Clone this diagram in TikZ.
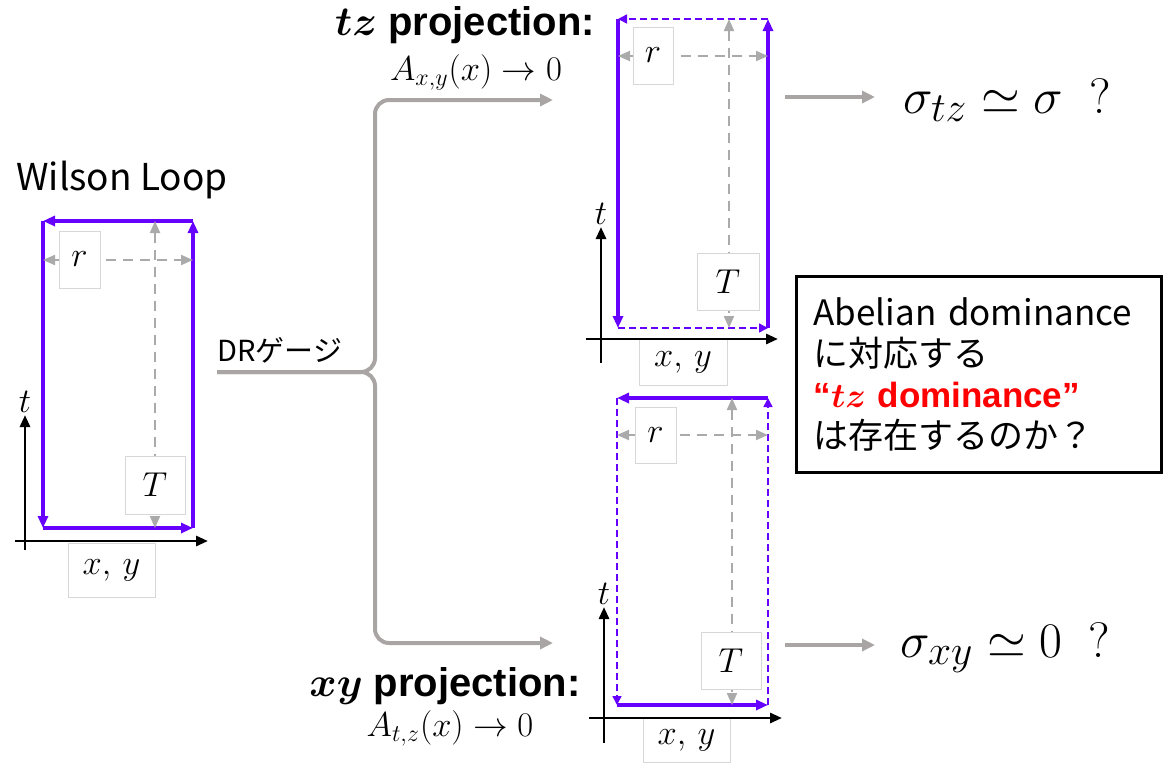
\documentclass[tikz,border=0pt]{standalone}
\usepackage{amsmath,bm}
\usepackage{fontspec}
\setmainfont{Noto Sans CJK JP}
\newfontfamily\heavyfont{Liberation Sans}
\usepackage{tikz}
\usetikzlibrary{arrows.meta,calc}
\definecolor{loopc}{RGB}{102,0,255}
\definecolor{measc}{RGB}{170,170,170}
\definecolor{flowc}{RGB}{170,165,165}
\definecolor{boxc}{RGB}{215,215,215}
\tikzset{
  edge/.style={line width=2pt, color=loopc, -{Triangle[length=6pt,width=5pt]}},
  proj/.style={line width=0.75pt, color=loopc, dash pattern=on 3.5pt off 2pt, -{Triangle[length=4.5pt,width=4.5pt]}},
  meas/.style={line width=1pt, color=measc, dash pattern=on 5pt off 3.5pt, {Triangle[length=6pt,width=5pt]}-{Triangle[length=6pt,width=5pt]}},
  axis/.style={line width=1.4pt, -{Triangle[length=6pt,width=5pt]}},
  flow/.style={line width=2pt, color=flowc, -{Triangle[length=6.5pt,width=6pt]}},
  lbl/.style={draw=boxc, fill=white, line width=0.4pt, inner sep=0pt, font=\fontsize{18}{18}\selectfont},
  res/.style={anchor=west, inner sep=0pt, font=\fontsize{28}{28}\selectfont}
}

\begin{document}
\begin{tikzpicture}[x=0.5pt,y=-0.5pt]
\useasboundingbox (0,0) rectangle (1164,762);

% Wilson loop
\node[font=\fontsize{18.5}{18.5}\selectfont] (wtitle) at (122,180) {Wilson Loop};
\coordinate (wbl) at (43,528);  \coordinate (wbr) at (193,528);
\coordinate (wtr) at (193,221); \coordinate (wtl) at (43,221);
\draw[edge] (wbl) -- (wbr);
\draw[edge] (wbr) -- (wtr);
\draw[edge] (wtr) -- (wtl);
\draw[edge] (wtl) -- (wbl);
\coordinate (wr1) at (43,260);  \coordinate (wr2) at (193,260);
\coordinate (wT1) at (155,221); \coordinate (wT2) at (155,528);
\draw[meas] (wr1) -- (wr2);
\draw[meas] (wT1) -- (wT2);
\node[lbl, minimum width=20.5pt, minimum height=28.5pt] (wr) at (79.5,259.5) {$r$};
\node[lbl, minimum width=30pt, minimum height=29pt] (wT) at (155,485) {$T$};
\coordinate (wt0) at (25,550); \coordinate (wt1) at (25,415);
\coordinate (wx0) at (15,541); \coordinate (wx1) at (208,541);
\node[lbl, minimum width=43.5pt, minimum height=27pt] (wxy) at (111.5,570) {$x,\, y$};
\draw[axis] (wt0) -- (wt1) node[above, inner sep=0.5pt, font=\fontsize{18}{18}\selectfont] (wt) {$t$};
\draw[axis] (wx0) -- (wx1);

% DR gauge and fork
\coordinate (dr) at (217,372);
\coordinate (fork) at (375,372);
\coordinate (tzin) at (553,100);
\coordinate (xyin) at (553,643);
\node[anchor=west, inner sep=0pt, font=\fontsize{14.5}{14.5}\selectfont] (drlbl) at (217,350) {DRゲージ};
\draw[flow, rounded corners=7pt] (dr) -- (fork) |- (tzin);
\draw[flow, rounded corners=7pt] (dr) -- (fork) |- (xyin);
\node[font=\heavyfont\bfseries\fontsize{20}{20}\selectfont] (tzhead) at (465,25) {$\bm{tz}$ projection:};
\node[font=\fontsize{17.5}{17.5}\selectfont] (tzcond) at (476,72) {$A_{x,y}(x)\rightarrow 0$};
\node[font=\heavyfont\bfseries\fontsize{20}{20}\selectfont] (xyhead) at (445,686) {$\bm{xy}$ projection:};
\node[font=\fontsize{17.5}{17.5}\selectfont] (xycond) at (450,728) {$A_{t,z}(x)\rightarrow 0$};

% tz projection loop
\coordinate (tbl) at (618,328); \coordinate (tbr) at (768,328);
\coordinate (ttr) at (768,19);  \coordinate (ttl) at (618,19);
\draw[proj] (tbl) -- (tbr);
\draw[edge] (tbr) -- (ttr);
\draw[proj] (ttr) -- (ttl);
\draw[edge] (ttl) -- (tbl);
\coordinate (tr1) at (618,56);  \coordinate (tr2) at (768,56);
\coordinate (tT1) at (729,19);  \coordinate (tT2) at (729,328);
\draw[meas] (tr1) -- (tr2);
\draw[meas] (tT1) -- (tT2);
\node[lbl, minimum width=20pt, minimum height=28.5pt] (tr) at (653,55.5) {$r$};
\node[lbl, minimum width=31pt, minimum height=28.5pt] (tT) at (728,281.5) {$T$};
\coordinate (tt0) at (601,363); \coordinate (tt1) at (601,227);
\coordinate (tx0) at (586,339); \coordinate (tx1) at (778,339);
\node[lbl, minimum width=44pt, minimum height=23pt] (txy) at (683,362) {$x,\, y$};
\draw[axis] (tt0) -- (tt1) node[above, inner sep=0.5pt, font=\fontsize{18}{18}\selectfont] (tt) {$t$};
\draw[axis] (tx0) -- (tx1);

% xy projection loop
\coordinate (bbl) at (617,705); \coordinate (bbr) at (768,705);
\coordinate (btr) at (768,398); \coordinate (btl) at (617,398);
\draw[edge] (bbl) -- (bbr);
\draw[proj] (bbr) -- (btr);
\draw[edge] (btr) -- (btl);
\draw[proj] (btl) -- (bbl);
\coordinate (br1) at (617,435); \coordinate (br2) at (768,435);
\coordinate (bT1) at (732,398); \coordinate (bT2) at (732,705);
\draw[meas] (br1) -- (br2);
\draw[meas] (bT1) -- (bT2);
\node[lbl, minimum width=20.5pt, minimum height=28pt] (br) at (655.5,435) {$r$};
\node[lbl, minimum width=30pt, minimum height=28.5pt] (bT) at (731,660.5) {$T$};
\coordinate (bt0) at (604,743); \coordinate (bt1) at (604,607);
\coordinate (bx0) at (589,718); \coordinate (bx1) at (782,718);
\node[lbl, minimum width=43.5pt, minimum height=22pt] (bxy) at (686.5,740) {$x,\, y$};
\draw[axis] (bt0) -- (bt1) node[above, inner sep=0.5pt, font=\fontsize{18}{18}\selectfont] (bt) {$t$};
\draw[axis] (bx0) -- (bx1);

% results
\coordinate (tzout) at (785,97);
\coordinate (xyout) at (785,645);
\node[res] (tzres) at (903,100) {$\sigma_{tz}\simeq\sigma\hskip 13pt ?$};
\node[res] (xyres) at (900,648) {$\sigma_{xy}\simeq 0\hskip 13pt ?$};
\draw[flow] (tzout) -- ++(90,0);
\draw[flow] (xyout) -- ++(90,0);

% question
\node[draw, line width=1.5pt, anchor=north west, inner xsep=8.5pt, inner ysep=0pt,
  text width=165.5pt, minimum height=98pt, align=left,
  font=\fontsize{17.5}{20.5}\selectfont] (qbox) at (795,275) {%
Abelian dominance\\
に対応する\\
{\heavyfont\bfseries\color{red}“$\bm{tz}$ dominance”}\\
は存在するのか？};
\end{tikzpicture}
\end{document}
